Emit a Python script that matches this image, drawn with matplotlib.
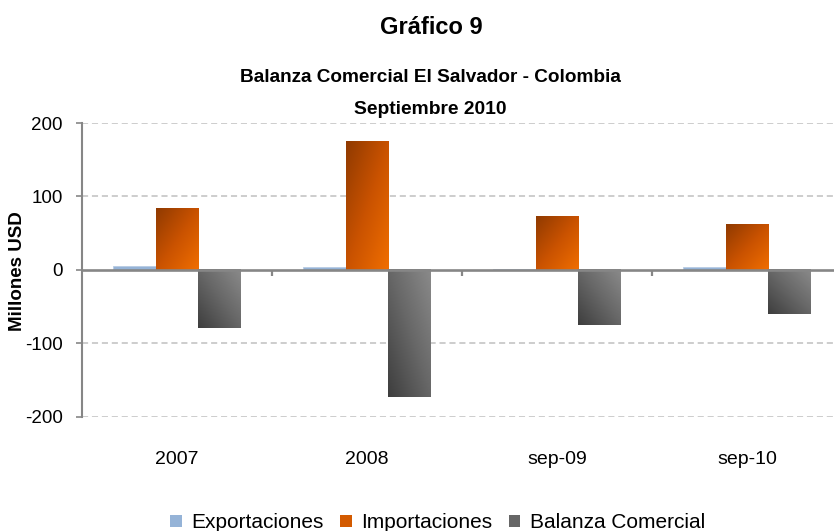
import numpy as np
import matplotlib
matplotlib.use("Agg")
import matplotlib.pyplot as plt
from matplotlib.colors import LinearSegmentedColormap
from matplotlib.patches import Patch

plt.rcParams['font.family'] = ['Liberation Sans', 'DejaVu Sans']

categories = ['2007', '2008', 'sep-09', 'sep-10']
exportaciones = [5, 4, 0.5, 3.5]
importaciones = [84, 175, 73, 62]
balanza = [-79, -173, -75, -60]
series_names = ['Exportaciones', 'Importaciones', 'Balanza Comercial']

orange_cmap = LinearSegmentedColormap.from_list('orange', ['#903a00', '#c95200', '#f06e00'])
gray_cmap = LinearSegmentedColormap.from_list('gray', ['#3e3e3e', '#666666', '#8a8a8a'])


def gradient_fill(ax, patches, cmap, mode):
    # overlay a diagonal gradient image on each bar
    u, v = np.meshgrid(np.linspace(0, 1, 64), np.linspace(0, 1, 64))
    if mode == 'orange':
        t = (u + (1 - v)) / 2   # dark top-left, bright bottom-right
    else:
        t = (u + v) / 2         # dark bottom-left, light top-right
    for p in patches:
        x0 = p.get_x()
        x1 = x0 + p.get_width()
        y0 = p.get_y()
        y1 = y0 + p.get_height()
        ax.imshow(t, extent=(x0, x1, min(y0, y1), max(y0, y1)), origin='lower',
                  cmap=cmap, aspect='auto', interpolation='bilinear', zorder=3)


fig = plt.figure(figsize=(8.34, 5.31), dpi=100)
ax = fig.add_axes([82 / 834, 114.3 / 531, 760 / 834, 293.7 / 531])

x = np.arange(len(categories))
w = 0.224
b1 = ax.bar(x - w, exportaciones, w, color='#95b3d7', edgecolor='#b8cce4', linewidth=0.6, zorder=3)
b2 = ax.bar(x, importaciones, w, color='#d35a00', zorder=2)
b3 = ax.bar(x + w, balanza, w, color='#666666', zorder=2)
gradient_fill(ax, b2.patches, orange_cmap, 'orange')
gradient_fill(ax, b3.patches, gray_cmap, 'gray')

ax.set_xlim(-0.5, 3.5)
ax.set_ylim(-200, 200)
ax.set_yticks([-200, -100, 0, 100, 200])
ax.set_yticklabels(['-200', '-100', '0', '100', '200'])
ax.set_xticks(x)
ax.set_xticklabels(categories)

for yv in [-200, -100, 100, 200]:
    ax.axhline(yv, color='#c0c0c0', linewidth=1.1, linestyle=(0, (4, 2.5)), zorder=1)
ax.axhline(0, color='#868686', linewidth=1.9, zorder=4)
ax.vlines([0.5, 1.5, 2.5], -9, 0, color='#868686', linewidth=1.6, zorder=4)

for s in ['top', 'right', 'bottom']:
    ax.spines[s].set_visible(False)
ax.spines['left'].set_color('#868686')
ax.spines['left'].set_linewidth(1.5)
ax.tick_params(axis='y', direction='out', length=4, width=1.2, color='#868686',
               labelsize=13.5, pad=10)
ax.tick_params(axis='x', length=0, labelsize=14, pad=25)

fig.text(18 / 834, 1 - 271 / 531, 'Millones USD', rotation=90, ha='center', va='center',
         fontsize=13.5, fontweight='bold')
fig.text(0.517, 1 - 27 / 531, 'Gráfico 9', ha='center', va='center', fontsize=17, fontweight='bold')
fig.text(0.516, 1 - 78 / 531, 'Balanza Comercial El Salvador - Colombia', ha='center', va='center',
         fontsize=13.7, fontweight='bold')
fig.text(0.516, 1 - 109 / 531, 'Septiembre 2010', ha='center', va='center',
         fontsize=13.9, fontweight='bold')

handles = [Patch(facecolor='#95b3d7'), Patch(facecolor='#d35a00'), Patch(facecolor='#666666')]
fig.legend(handles, series_names, loc='center', bbox_to_anchor=(437.5 / 834, 1 - 523 / 531), ncol=3,
           frameon=False, fontsize=15, handlelength=0.55, handleheight=0.55,
           handletextpad=0.45, columnspacing=0.8, borderpad=0)

fig.savefig('out.png', dpi=100)
